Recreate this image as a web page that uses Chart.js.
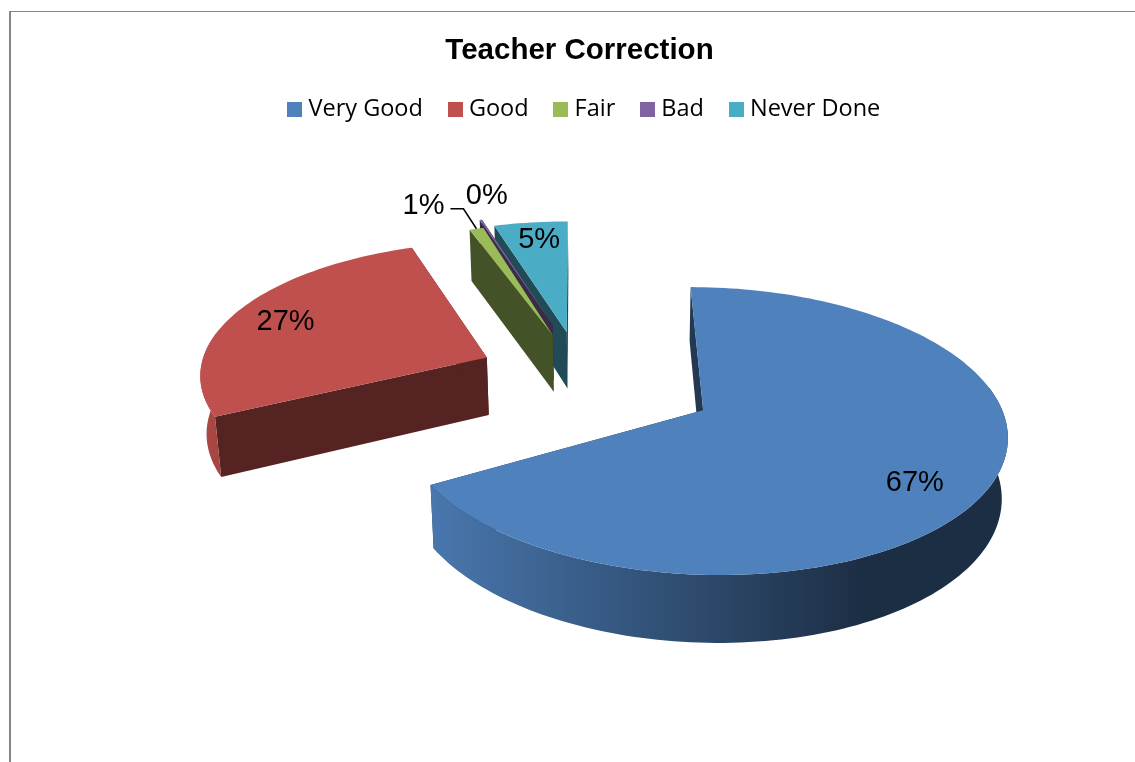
<!DOCTYPE html>
<html>
<head>
<meta charset="utf-8">
<title>Teacher Correction</title>
<script src="https://cdn.jsdelivr.net/npm/chart.js@4"></script>
<style>
    html, body { margin: 0; padding: 0; background: #fff; overflow: hidden; }
    #frame {
        position: absolute; left: 9px; top: 11px; width: 1137px; height: 751px;
        border-left: 2px solid #868686; border-top: 1px solid #868686;
    }
    #frame canvas { display: block; }
</style>
</head>
<body>
<div id="frame"><canvas id="chart1" width="1137" height="751"></canvas></div>
<script>
const categories = ['Very Good', 'Good', 'Fair', 'Bad', 'Never Done'];
const shares = [67.2, 27.0, 0.9, 0.15, 4.7];
const sliceColors = ['#4F81BD', '#C0504D', '#9BBB59', '#8064A2', '#4BACC6'];

// perspective of the 3d pie, canvas pixels, 1 plane unit = one radius
const view = {
    vanishX: 566, horizonY: -837, focal: 10925, widthScale: 2620, distance: 9.04,
    pieX: 0.05, explode: 0.42, thickness: 530, footX: 607, footDist: 3900
};
// small per slice corrections, plane units and degrees, label in pixels
const sliceTweaks = [
    { x: 0.016, y: -0.01, r: 1.01, apex: 0.03, turn: 0, label: [-3, 9] },
    { x: 0.025, y: 0.05, r: 1, apex: 0, turn: 1.8, label: [-6, 1] },
    { x: 0, y: -0.02, r: 1, apex: 0, turn: 1, label: [0, 0] },
    { x: -0.014, y: 0.06, r: 1, apex: 0, turn: 0, label: [0, 0] },
    { x: -0.025, y: -0.015, r: 1, apex: 0, turn: 0, label: [1, -5] }
];
const labelRadius = 0.78;
// 1% and 0% sit outside their slices, offsets from the middle of the arc
const outsideLabels = {
    2: { dx: -53, dy: -23, leader: [[-13, -20], [-26, -20]] },
    3: { dx: 6, dy: -24 }
};

function project(x, y, z) {
    const w = 1 / (view.distance + y);
    let sx = view.vanishX + view.widthScale * x * w;
    const sy = view.horizonY + view.focal * w;
    const h = view.thickness * w * z;
    sx += (view.footX - sx) * h / view.footDist;
    return [sx, sy + h];
}

function shade(hex, k) {
    const n = parseInt(hex.slice(1), 16);
    const c = [n >> 16, (n >> 8) & 255, n & 255].map(v => Math.round(v * k));
    return `rgb(${c[0]}, ${c[1]}, ${c[2]})`;
}

function swatch(color) {
    const c = document.createElement('canvas');
    c.width = 15;
    c.height = 15;
    const g = c.getContext('2d');
    g.fillStyle = color;
    g.fillRect(0, 0, 15, 15);
    return c;
}

// geometry of one slice, angles come from the arc element of chart.js
function sliceGeometry(arc, i) {
    const t = sliceTweaks[i];
    const p = arc.getProps(['startAngle', 'endAngle']);
    const turn = t.turn * Math.PI / 180;
    const start = p.startAngle + turn;
    const end = p.endAngle + turn;
    const mid = (start + end) / 2;
    const ax = view.pieX + t.x + view.explode * Math.cos(p.startAngle / 2 + p.endAngle / 2);
    const ay = t.y - view.explode * Math.sin(p.startAngle / 2 + p.endAngle / 2);
    const steps = Math.max(4, Math.ceil((end - start) * 40));
    const rim = [];
    for (let k = 0; k <= steps; k++) {
        const a = start + (end - start) * k / steps;
        rim.push([ax + t.r * Math.cos(a), ay - t.r * Math.sin(a), -Math.sin(a)]);
    }
    return { ax, ay, apexY: ay + t.apex, mid, rim };
}

function fillPoly(ctx, pts, style) {
    ctx.beginPath();
    pts.forEach((pt, i) => (i ? ctx.lineTo(pt[0], pt[1]) : ctx.moveTo(pt[0], pt[1])));
    ctx.closePath();
    ctx.fillStyle = style;
    ctx.fill();
}

function drawSlice(ctx, arc, i) {
    const color = sliceColors[i];
    const g = sliceGeometry(arc, i);
    const top = g.rim.map(pt => project(pt[0], pt[1], 0));
    const bottom = g.rim.map(pt => project(pt[0], pt[1], 1));
    const apexTop = project(g.ax, g.apexY, 0);
    const apexBottom = project(g.ax, g.apexY, 1);

    // cut walls first, the rim wall goes over them
    const wall = shade(color, 0.44);
    fillPoly(ctx, [apexTop, top[0], bottom[0], apexBottom], wall);
    fillPoly(ctx, [apexTop, top[top.length - 1], bottom[bottom.length - 1], apexBottom], wall);

    // only the part of the rim that faces the viewer
    const front = g.rim.map((pt, k) => k).filter(k => g.rim[k][2] < 0.2);
    if (front.length > 1) {
        const xs = top.map(pt => pt[0]);
        const grad = ctx.createLinearGradient(Math.min(...xs), 0, Math.max(...xs), 0);
        grad.addColorStop(0, shade(color, 0.92));
        grad.addColorStop(0.75, shade(color, 0.36));
        grad.addColorStop(1, shade(color, 0.36));
        fillPoly(ctx, front.map(k => top[k]).concat(front.map(k => bottom[k]).reverse()), grad);
    }
    fillPoly(ctx, [apexTop].concat(top), color);
}

function drawLabels(ctx, meta) {
    ctx.font = '29px "Liberation Sans"';
    ctx.fillStyle = '#000';
    ctx.textAlign = 'center';
    ctx.textBaseline = 'middle';
    meta.data.forEach((arc, i) => {
        const g = sliceGeometry(arc, i);
        const text = Math.round(shares[i]) + '%';
        const out = outsideLabels[i];
        if (out) {
            const edge = project(g.ax + Math.cos(g.mid), g.ay - Math.sin(g.mid), 0);
            ctx.fillText(text, edge[0] + out.dx, edge[1] + out.dy);
            if (out.leader) {
                ctx.beginPath();
                ctx.moveTo(edge[0], edge[1]);
                out.leader.forEach(o => ctx.lineTo(edge[0] + o[0], edge[1] + o[1]));
                ctx.strokeStyle = '#000';
                ctx.lineWidth = 1.5;
                ctx.stroke();
            }
        } else {
            const c = project(g.ax + labelRadius * Math.cos(g.mid), g.ay - labelRadius * Math.sin(g.mid), 0);
            ctx.fillText(text, c[0] + sliceTweaks[i].label[0], c[1] + sliceTweaks[i].label[1]);
        }
    });
}

const pie3d = {
    id: 'pie3d',
    beforeDatasetDraw(chart, args) {
        const ctx = chart.ctx;
        const meta = args.meta;
        ctx.save();
        // far slices first
        for (let i = meta.data.length - 1; i >= 0; i--) {
            drawSlice(ctx, meta.data[i], i);
        }
        drawLabels(ctx, meta);
        ctx.restore();
        return false;
    },
    afterLayout(chart) {
        chart.legend.left += 7;
        chart.legend.right += 7;
    }
};

const chart = new Chart(document.getElementById('chart1'), {
    type: 'pie',
    data: {
        labels: categories,
        datasets: [{ data: shares, backgroundColor: sliceColors, borderWidth: 0 }]
    },
    options: {
        responsive: false,
        animation: false,
        plugins: {
            tooltip: { enabled: false },
            title: {
                display: true,
                text: 'Teacher Correction',
                color: '#000',
                font: { family: '"Liberation Sans"', size: 29.5, weight: 'bold' },
                padding: { top: 21, bottom: -1 }
            },
            legend: {
                position: 'top',
                labels: {
                    color: '#000',
                    font: { family: '"Open Sans"', size: 23.5 },
                    usePointStyle: true,
                    boxWidth: 4,
                    boxHeight: 15,
                    padding: 30.25,
                    generateLabels: () => categories.map((text, i) => ({
                        text,
                        fillStyle: sliceColors[i],
                        strokeStyle: sliceColors[i],
                        lineWidth: 0,
                        pointStyle: swatch(sliceColors[i]),
                        hidden: false,
                        index: i
                    }))
                }
            }
        }
    },
    plugins: [pie3d]
});
</script>
</body>
</html>
